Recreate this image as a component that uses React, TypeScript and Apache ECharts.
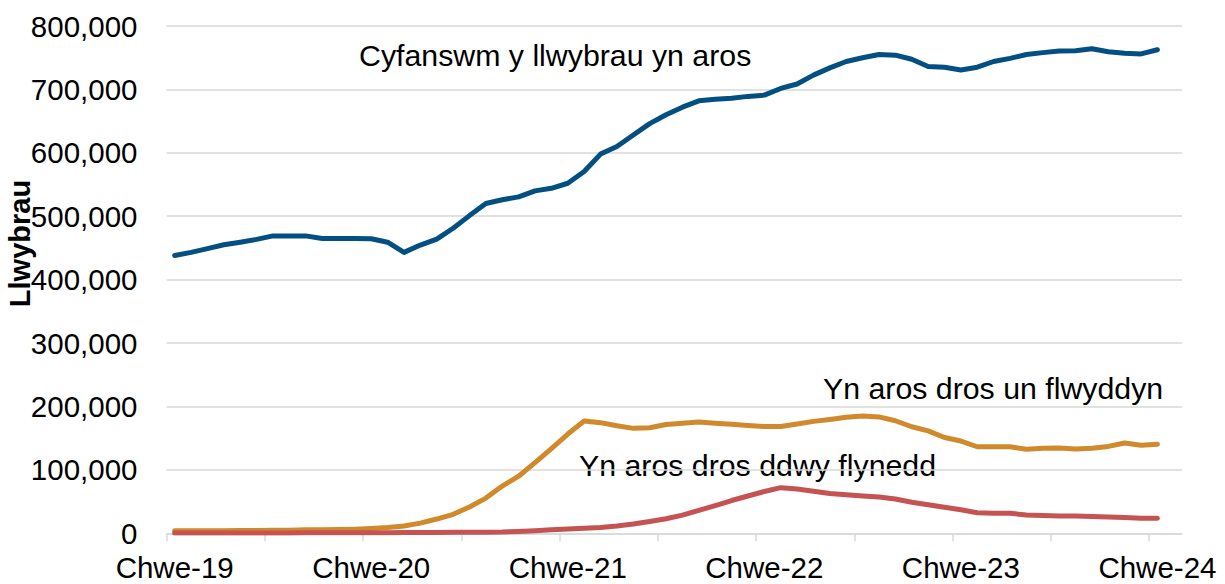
import React, { useEffect, useRef } from "react";
import * as echarts from "echarts";

// Welsh month abbreviations and axis span (Feb 2019 .. Mar 2024)
const monthNames = ["Ion", "Chwe", "Maw", "Ebr", "Mai", "Meh", "Gor", "Awst", "Medi", "Hyd", "Tach", "Rhag"];
const startYear = 2019;
const startMonth = 1; // Chwefror
const categoryCount = 62;

// Cyfanswm y llwybrau yn aros
const totalPathways = [
  438000, 443000, 449000, 455000, 459000, 463500, 469000, 469000, 469000, 465000,
  465000, 465000, 464500, 459000, 443000, 454500, 464000, 481000, 501000, 520000,
  526000, 530500, 540000, 544000, 552000, 570500, 598000, 610000, 628000, 646000,
  660000, 672000, 682000, 684500, 686000, 689000, 691000, 701500, 708500, 722500,
  734000, 744000, 750000, 755000, 754000, 747500, 736000, 735000, 730500, 735000,
  744000, 749000, 755000, 758000, 760500, 761000, 764000, 759500, 757000, 756000,
  762500,
];

// Yn aros dros un flwyddyn
const overOneYear = [
  4000, 4000, 4000, 4000, 4500, 4500, 5000, 5000, 5500, 5500,
  6000, 6500, 7500, 9000, 11500, 16000, 22500, 30000, 41500, 55500,
  74500, 90000, 111500, 133500, 156500, 177000, 174500, 169500, 165500, 166500,
  171500, 173500, 175500, 173500, 172000, 170000, 168500, 168500, 172500, 176500,
  179500, 183000, 185000, 183500, 177500, 168000, 161500, 151000, 145500, 136500,
  136500, 136500, 132500, 134000, 134500, 133000, 134000, 137000, 142500, 139000,
  140500,
];

// Yn aros dros ddwy flynedd
const overTwoYears = [
  500, 500, 500, 500, 500, 500, 600, 600, 700, 700,
  800, 800, 900, 1000, 1100, 1200, 1400, 1500, 1700, 1800,
  2000, 3000, 4000, 5500, 6800, 7800, 9000, 11500, 14700, 18600,
  23000, 28700, 36300, 43700, 51700, 58800, 66000, 72000, 69800, 66200,
  62800, 60700, 59000, 57200, 54000, 49000, 45000, 41000, 37000, 32500,
  31500, 31500, 29000, 28000, 27300, 27300, 26300, 25700, 24800, 23800,
  23700,
];

const seriesNames = ["Cyfanswm y llwybrau yn aros", "Yn aros dros un flwyddyn", "Yn aros dros ddwy flynedd"];
const yAxisTitle = "Llwybrau";

const categories: string[] = [];
for (let k = 0; k < categoryCount; k++) {
  const m = (startMonth + k) % 12;
  const y = startYear + Math.floor((startMonth + k) / 12);
  categories.push(`${monthNames[m]}-${String(y).slice(2)}`);
}

const FONT = "'Liberation Sans', Arial, sans-serif";
const FS = 29.5;
const FS_NOTE = 30.3;
const GRID_LEFT = 166.5;
const GRID_RIGHT = 43;
const GRID_TOP = 26;
const GRID_BOTTOM = 50.7;
const W = 1225;
const plotW = W - GRID_LEFT - GRID_RIGHT;
const tickGridW = (plotW * (categoryCount - 2)) / categoryCount;

export default function App() {
  const ref = useRef<HTMLDivElement>(null);
  useEffect(() => {
    if (!ref.current) return;
    const chart = echarts.init(ref.current, null, { renderer: "svg" });
    const note = (text: string, x: number, y: number) => ({
      type: "text",
      x,
      y,
      style: {
        text,
        font: `${FS_NOTE}px ${FONT}`,
        fill: "#000",
        textAlign: "left",
        textVerticalAlign: "middle",
      },
    });
    chart.setOption({
      animation: false,
      backgroundColor: "#ffffff",
      textStyle: { fontFamily: FONT },
      grid: [
        { left: GRID_LEFT, right: GRID_RIGHT, top: GRID_TOP, bottom: GRID_BOTTOM, containLabel: false },
        { left: GRID_LEFT, width: tickGridW, top: GRID_TOP, bottom: GRID_BOTTOM, containLabel: false },
      ],
      xAxis: [
        {
          type: "category",
          gridIndex: 0,
          data: categories,
          boundaryGap: true,
          axisLine: { show: true, lineStyle: { color: "#d9d9d9", width: 1.5 } },
          axisTick: { show: false },
          axisLabel: { interval: 11, fontSize: FS, color: "#000", margin: 19, fontFamily: FONT },
          splitLine: { show: false },
        },
        {
          type: "value",
          gridIndex: 1,
          min: 0,
          max: categoryCount - 2,
          interval: 6,
          axisLine: { show: false },
          axisTick: { show: true, length: 8, lineStyle: { color: "#d9d9d9", width: 1.5 } },
          axisLabel: { show: false },
          splitLine: { show: false },
        },
      ],
      yAxis: [
        {
          type: "value",
          gridIndex: 0,
          min: 0,
          max: 800000,
          interval: 100000,
          axisLine: { show: false },
          axisTick: { show: false },
          splitLine: { show: true, lineStyle: { color: "#d9d9d9", width: 1.5 } },
          axisLabel: {
            fontSize: FS,
            color: "#000",
            margin: 29,
            fontFamily: FONT,
            formatter: (v: number) => v.toLocaleString("en-US"),
          },
        },
        { type: "value", gridIndex: 1, show: false, min: 0, max: 1 },
      ],
      series: [
        {
          name: seriesNames[0],
          type: "line",
          data: totalPathways,
          symbol: "none",
          lineStyle: { color: "#044f82", width: 5, cap: "round", join: "round" },
          itemStyle: { color: "#044f82" },
        },
        {
          name: seriesNames[1],
          type: "line",
          data: overOneYear,
          symbol: "none",
          lineStyle: { color: "#d0892b", width: 5, cap: "round", join: "round" },
          itemStyle: { color: "#d0892b" },
        },
        {
          name: seriesNames[2],
          type: "line",
          data: overTwoYears,
          symbol: "none",
          lineStyle: { color: "#c55352", width: 5, cap: "round", join: "round" },
          itemStyle: { color: "#c55352" },
        },
      ],
      graphic: [
        {
          type: "text",
          x: 20,
          y: 243.5,
          rotation: Math.PI / 2,
          style: {
            text: yAxisTitle,
            font: `bold 29px ${FONT}`,
            fill: "#000",
            textAlign: "center",
            textVerticalAlign: "middle",
          },
        },
        note(seriesNames[0], 359, 55),
        note(seriesNames[1], 823, 388),
        note(seriesNames[2], 579, 465),
      ],
    });
    return () => chart.dispose();
  }, []);
  return (
    <div
      ref={ref}
      style={{ position: "absolute", left: 0, top: 0, width: W, height: 584, background: "#fff" }}
    />
  );
}
